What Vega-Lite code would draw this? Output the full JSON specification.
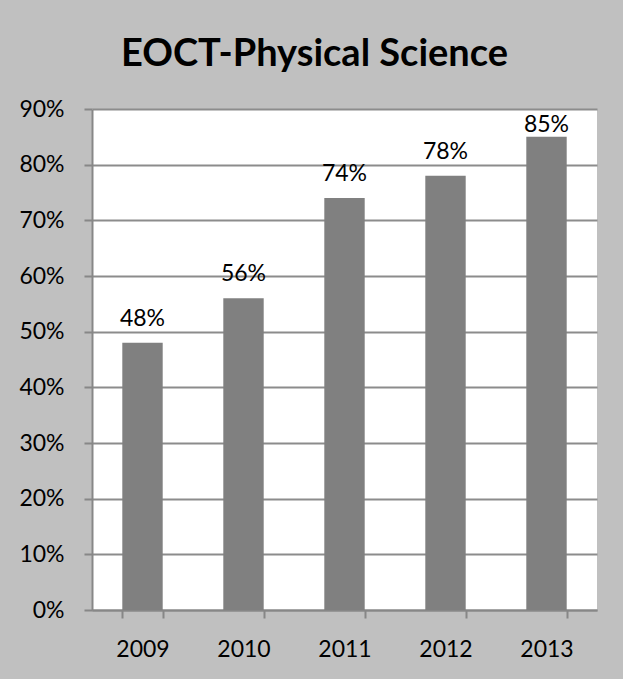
{
  "$schema": "https://vega.github.io/schema/vega-lite/v6.json",
  "autosize": "none",
  "width": 505,
  "height": 501,
  "padding": {"left": 92, "top": 109, "right": 26, "bottom": 69},
  "background": "#C0C0C0",
  "title": {
    "text": "EOCT-Physical Science",
    "font": "Lato",
    "fontSize": 38,
    "fontWeight": "bold",
    "color": "#000000",
    "anchor": "middle",
    "dx": -30,
    "offset": 24
  },
  "data": {
    "values": [
      {"year": "2009", "pct": 0.48},
      {"year": "2010", "pct": 0.56},
      {"year": "2011", "pct": 0.74},
      {"year": "2012", "pct": 0.78},
      {"year": "2013", "pct": 0.85}
    ]
  },
  "config": {
    "view": {"stroke": null, "fill": "#FFFFFF"},
    "axis": {
      "labelFont": "Lato",
      "labelFontSize": 23,
      "labelColor": "#000000",
      "domainColor": "#878787",
      "domainWidth": 2,
      "tickColor": "#878787",
      "tickWidth": 2,
      "tickSize": 8,
      "gridColor": "#8C8C8C",
      "gridWidth": 2,
      "title": null
    }
  },
  "encoding": {
    "x": {
      "field": "year",
      "type": "nominal",
      "sort": null,
      "scale": {"paddingInner": 0.6, "paddingOuter": 0.3},
      "axis": {
        "labelAngle": 0,
        "labelPadding": 20,
        "tickBand": "extent",
        "grid": false
      }
    },
    "y": {
      "field": "pct",
      "type": "quantitative",
      "scale": {"domain": [0, 0.9], "nice": false},
      "axis": {
        "format": ".0%",
        "values": [0, 0.1, 0.2, 0.3, 0.4, 0.5, 0.6, 0.7, 0.8, 0.9],
        "labelPadding": 20,
        "grid": true
      }
    }
  },
  "layer": [
    {"mark": {"type": "bar", "color": "#808080"}},
    {
      "transform": [{"filter": "datum.pct < 0.85"}],
      "mark": {
        "type": "text",
        "font": "Lato",
        "fontSize": 23,
        "color": "#000000",
        "baseline": "alphabetic",
        "dy": -17
      },
      "encoding": {"text": {"field": "pct", "type": "quantitative", "format": ".0%"}}
    },
    {
      "transform": [{"filter": "datum.pct >= 0.85"}],
      "mark": {
        "type": "text",
        "font": "Lato",
        "fontSize": 23,
        "color": "#000000",
        "baseline": "alphabetic",
        "dy": -5
      },
      "encoding": {"text": {"field": "pct", "type": "quantitative", "format": ".0%"}}
    }
  ]
}
